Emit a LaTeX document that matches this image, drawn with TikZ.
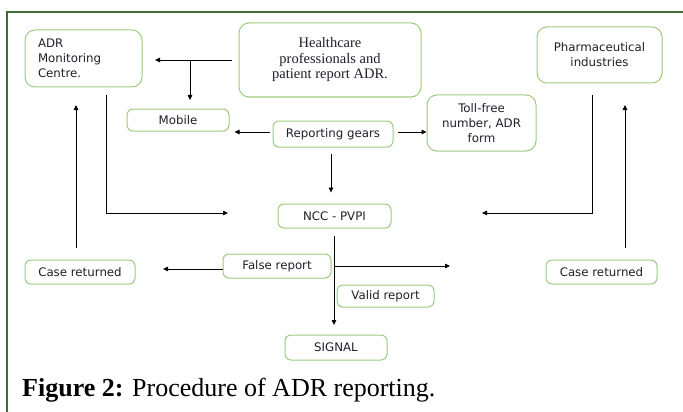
\documentclass[tikz,border=0pt]{standalone}
\usepackage{fontspec}
\setmainfont{Liberation Serif}
\newfontfamily\boxfont{DejaVu Sans}
\newfontfamily\hcfont{Liberation Serif}
\usetikzlibrary{arrows.meta}
\definecolor{framegreen}{HTML}{3F6E34}
\definecolor{boxgreen}{HTML}{9CCB7C}
\definecolor{txt}{HTML}{1F1F2A}
\tikzset{
  box/.style={draw=boxgreen, line width=1pt, rounded corners=6pt, inner sep=2pt,
    font=\boxfont\fontsize{11.8}{14.8}\selectfont, text=txt, align=center},
  bigbox/.style={box, rounded corners=10pt},
  conn/.style={draw=black, line width=0.8pt},
  arr/.style={conn, -{Triangle[length=5pt,width=4.5pt]}},
  frame/.style={draw=framegreen, line width=1.6pt}
}
\begin{document}
\begin{tikzpicture}[x=1pt,y=-1pt]
\useasboundingbox (0,0) rectangle (683,412);
\draw[frame] (683,12) -- (7,12) -- (7,412);

% nodes
\node[bigbox, minimum width=117pt, minimum height=57pt, inner xsep=13pt, text width=91pt, align=left] (adr) at (83.5,58.5) {ADR\\Monitoring\\Centre.};
\node[bigbox, minimum width=182pt, minimum height=74pt, font=\hcfont\fontsize{14.5}{15.5}\selectfont] (hc) at (330,60) {Healthcare\\professionals and\\patient report ADR.};
\node[bigbox, minimum width=125pt, minimum height=56pt] (ph) at (599.5,55) {Pharmaceutical\\industries};
\node[box, minimum width=102pt, minimum height=22pt] (mob) at (178,120) {Mobile};
\node[box, minimum width=120pt, minimum height=26pt] (rg) at (333,134) {Reporting gears};
\node[bigbox, minimum width=109pt, minimum height=56pt] (toll) at (481.5,123) {Toll-free\\number, ADR\\form};
\node[box, minimum width=113pt, minimum height=24pt] (ncc) at (334.5,216) {NCC - PVPI};
\node[box, minimum width=108pt, minimum height=24pt] (fr) at (277,266) {False report};
\node[box, minimum width=97pt, minimum height=22pt] (vr) at (385.5,296) {Valid report};
\node[box, minimum width=102pt, minimum height=25pt] (sig) at (336,347.5) {SIGNAL};
\node[box, minimum width=110pt, minimum height=24pt] (crl) at (80,272) {Case returned};
\node[box, minimum width=111pt, minimum height=24pt] (crr) at (601.5,272) {Case returned};

\node[anchor=base west, inner sep=0pt, font=\fontsize{26}{30}\selectfont] (cap) at (22,396) {\textbf{Figure 2:} Procedure of ADR reporting.};

% free ends
\coordinate (hcL) at (232,60);
\coordinate (hcEnd) at (155,60);
\coordinate (br) at (190,60);
\coordinate (mobIn) at (190,100);
\coordinate (adrOut) at (106,95);
\coordinate (adrCorner) at (106,213);
\coordinate (nccInL) at (228,213);
\coordinate (phOut) at (592,95);
\coordinate (phCorner) at (592,213);
\coordinate (nccInR) at (482,213);
\coordinate (upLtop) at (76,105);
\coordinate (upLbot) at (76,248);
\coordinate (upRtop) at (625,105);
\coordinate (upRbot) at (625,248);
\coordinate (nccOut) at (334,236);
\coordinate (sigIn) at (334,325);
\coordinate (brR) at (334,266);
\coordinate (brREnd) at (450,266);
\coordinate (frEnd) at (163,269);

% connectors
\draw[arr] (hcL) -- (hcEnd);
\draw[arr] (br) -- (mobIn);
\draw[arr] ([xshift=-3pt]rg.west |- 0,132) -- ([xshift=5pt]mob.east |- 0,132);
\draw[arr] ([xshift=4pt]rg.east |- 0,132) -- (toll.west |- 0,132);
\draw[arr] ([yshift=-6pt]rg.south -| 331,0) -- ([yshift=11pt]ncc.north -| 331,0);
\draw[arr] (adrOut) -- (adrCorner) -- (nccInL);
\draw[arr] (phOut) -- (phCorner) -- (nccInR);
\draw[arr] (upLbot) -- (upLtop);
\draw[arr] (upRbot) -- (upRtop);
\draw[arr] (nccOut) -- (sigIn);
\draw[arr] (brR) -- (brREnd);
\draw[arr] (fr.west |- 0,269) -- (frEnd);
\end{tikzpicture}
\end{document}
